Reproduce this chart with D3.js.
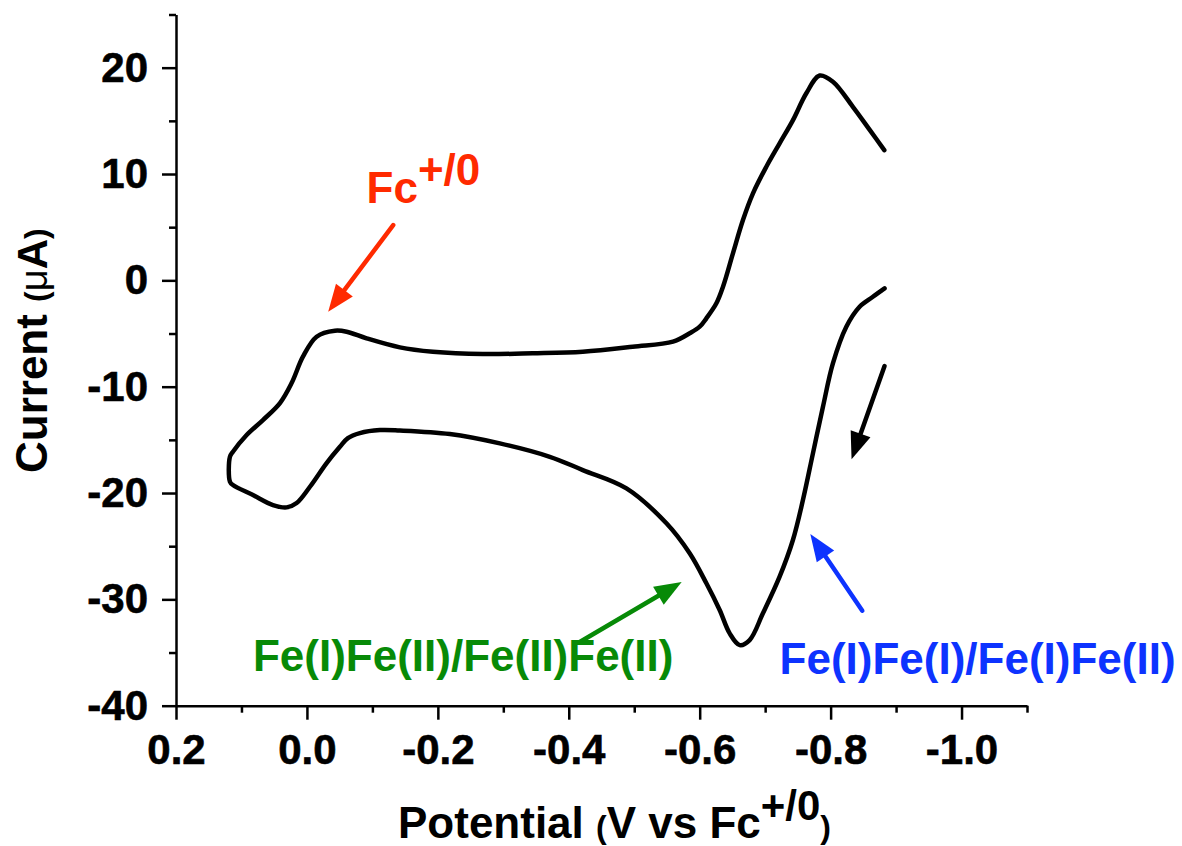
<!DOCTYPE html>
<html>
<head>
<meta charset="utf-8">
<script src="https://cdn.jsdelivr.net/npm/d3@7"></script>
<style>
  html, body { margin: 0; padding: 0; background: #fff; }
  svg { display: block; }
  text { font-family: "Liberation Sans", Arial, sans-serif; font-weight: bold; }
</style>
</head>
<body>
<svg id="chart" width="1182" height="846"></svg>
<script>
// Cyclic voltammogram: potential (V vs Fc+/0) and current (µA), one continuous scan
const potential = [
  -0.882, -0.860, -0.834, -0.8035, -0.7832, -0.7629, -0.7425, -0.7221, -0.7018, -0.6814,
  -0.6661, -0.6508, -0.6356, -0.6255, -0.6102, -0.600, -0.5847, -0.5592, -0.4977, -0.4214,
  -0.3450, -0.2687, -0.1924, -0.142, -0.0911, -0.0606, -0.0427, -0.0148, 0.0061, 0.0234,
  0.0412, 0.0672, 0.0921, 0.113, 0.1176, 0.1176, 0.113, 0.0824, 0.0519, 0.031,
  0.0157, -0.0046, -0.0301, -0.0504, -0.0626, -0.0809, -0.1115, -0.142, -0.2183, -0.2947,
  -0.371, -0.4214, -0.4881, -0.5492, -0.5847, -0.6102, -0.6305, -0.6458, -0.6611, -0.6763,
  -0.6966, -0.7221, -0.7424, -0.7577, -0.773, -0.7883, -0.8035, -0.824, -0.8443, -0.8646,
  -0.8824
];
const current = [
  12.25, 14.13, 16.32, 18.68, 19.26, 17.59, 15.07, 12.88, 10.68, 8.18,
  5.67, 2.54, -0.60, -2.16, -3.57, -4.36, -4.98, -5.77, -6.24, -6.71,
  -6.86, -6.93, -6.71, -6.30, -5.45, -4.83, -4.74, -5.30, -7.18, -9.66,
  -11.54, -13.14, -14.55, -16.12, -16.59, -18.94, -19.25, -20.19, -21.13, -21.35,
  -20.94, -19.41, -17.18, -15.65, -14.83, -14.36, -14.08, -14.12, -14.45, -15.33,
  -16.59, -17.84, -19.56, -22.85, -25.67, -28.49, -31.0, -33.20, -34.30, -33.83,
  -31.31, -27.87, -24.42, -20.66, -16.27, -11.89, -7.81, -4.36, -2.48, -1.54,
  -0.75
];

// Axis ticks
const xMajorTicks = [0.2, 0.0, -0.2, -0.4, -0.6, -0.8, -1.0];
const xMinorTicks = [0.1, -0.1, -0.3, -0.5, -0.7, -0.9, -1.1];
const yMajorTicks = [-40, -30, -20, -10, 0, 10, 20];
const yMinorTicks = [-35, -25, -15, -5, 5, 15, 25];

// Annotations: label text, colour, anchor (data units) and arrow tail/tip (data units)
const annotations = [
  { text: "Fc", sup: "+/0", color: "#ff2a00", at: [-0.0911, 7.30],
    tail: [-0.1318, 5.2], tip: [-0.0325, -2.95] },
  { text: "Fe(I)Fe(II)/Fe(II)Fe(II)", color: "#078a07", at: [0.0824, -36.74],
    tail: [-0.4168, -34.01], tip: [-0.5725, -28.37] },
  { text: "Fe(I)Fe(I)/Fe(I)Fe(II)", color: "#0d33ff", at: [-0.7221, -37.02],
    tail: [-0.8484, -31.07], tip: [-0.769, -23.86] },
  { text: null, color: "#000000", tail: [-0.8824, -8.06], tip: [-0.832, -16.83] }
];

const svg = d3.select("#chart");
const x = d3.scaleLinear().domain([0.2, -1.1]).range([176, 1027]);
const y = d3.scaleLinear().domain([-40, 25]).range([705.7, 14.5]);

const fontSize = 42;

// Minor ticks (unlabelled)
svg.append("g")
  .attr("transform", `translate(0,${y(-40)})`)
  .call(d3.axisBottom(x).tickValues(xMinorTicks).tickSize(7).tickSizeOuter(0).tickFormat(""))
  .call(g => g.select(".domain").remove());
svg.append("g")
  .attr("transform", `translate(${x(0.2)},0)`)
  .call(d3.axisLeft(y).tickValues(yMinorTicks).tickSize(7).tickSizeOuter(0).tickFormat(""))
  .call(g => g.select(".domain").remove());

// Major axes
svg.append("g")
  .attr("transform", `translate(0,${y(-40)})`)
  .call(d3.axisBottom(x).tickValues(xMajorTicks).tickSize(14).tickSizeOuter(0)
    .tickPadding(14).tickFormat(d => d.toFixed(1)));
svg.append("g")
  .attr("transform", `translate(${x(0.2)},0)`)
  .call(d3.axisLeft(y).tickValues(yMajorTicks).tickSize(14).tickSizeOuter(0)
    .tickPadding(14).tickFormat(d => String(d)));

svg.selectAll(".tick line").attr("stroke", "#000").attr("stroke-width", 2.5);
svg.selectAll(".domain").attr("stroke", "#000").attr("stroke-width", 2.5);
svg.selectAll(".tick text")
  .attr("font-size", fontSize)
  .attr("font-family", "'Liberation Sans', Arial, sans-serif")
  .attr("font-weight", "bold")
  .attr("fill", "#000")
  .attr("stroke", "#000")
  .attr("stroke-width", 0.6);

// Voltammogram trace
const pts = potential.map((v, i) => [v, current[i]]);
const line = d3.line()
  .x(d => x(d[0]))
  .y(d => y(d[1]))
  .curve(d3.curveCatmullRom.alpha(0.5));
svg.append("path")
  .datum(pts)
  .attr("d", line)
  .attr("fill", "none")
  .attr("stroke", "#000")
  .attr("stroke-width", 4.5)
  .attr("stroke-linejoin", "round")
  .attr("stroke-linecap", "round");

// Axis titles
const yTitle = svg.append("text")
  .attr("transform", "translate(46.5,473) rotate(-90)")
  .attr("fill", "#000");
yTitle.append("tspan").attr("font-size", 44).text("Current ");
yTitle.append("tspan").attr("font-size", 32).text("(");
yTitle.append("tspan").attr("font-size", 38).attr("font-weight", "normal").text("\u03bc");
yTitle.append("tspan").attr("font-size", 42).text("A");
yTitle.append("tspan").attr("font-size", 32).text(")");

const xTitle = svg.append("text")
  .attr("x", 398).attr("y", 838)
  .attr("fill", "#000");
xTitle.append("tspan").attr("font-size", 44).text("Potential ");
xTitle.append("tspan").attr("font-size", 32).text("(");
xTitle.append("tspan").attr("font-size", 44).text("V vs Fc");
xTitle.append("tspan").attr("font-size", 42).attr("dy", -18).text("+/0");
xTitle.append("tspan").attr("font-size", 32).attr("dy", 18).text(")");

// Annotation arrows and labels
function arrow(a) {
  const x0 = x(a.tail[0]), y0 = y(a.tail[1]);
  const x1 = x(a.tip[0]), y1 = y(a.tip[1]);
  const dx = x1 - x0, dy = y1 - y0;
  const len = Math.hypot(dx, dy);
  const ux = dx / len, uy = dy / len;
  const headLen = 27, headW = 10.5;
  const bx = x1 - ux * headLen, by = y1 - uy * headLen;
  svg.append("line")
    .attr("x1", x0).attr("y1", y0)
    .attr("x2", bx + ux * 2).attr("y2", by + uy * 2)
    .attr("stroke", a.color).attr("stroke-width", 4.5)
    .attr("stroke-linecap", "round");
  svg.append("path")
    .attr("d", `M${x1},${y1}L${bx - uy * headW},${by + ux * headW}L${bx + uy * headW},${by - ux * headW}Z`)
    .attr("fill", a.color);
}

annotations.forEach(a => {
  arrow(a);
  if (a.text) {
    const t = svg.append("text")
      .attr("x", x(a.at[0])).attr("y", y(a.at[1]))
      .attr("font-size", 44)
      .attr("fill", a.color);
    t.append("tspan").text(a.text);
    if (a.sup) t.append("tspan").attr("dy", -18).text(a.sup);
  }
});
</script>
</body>
</html>
